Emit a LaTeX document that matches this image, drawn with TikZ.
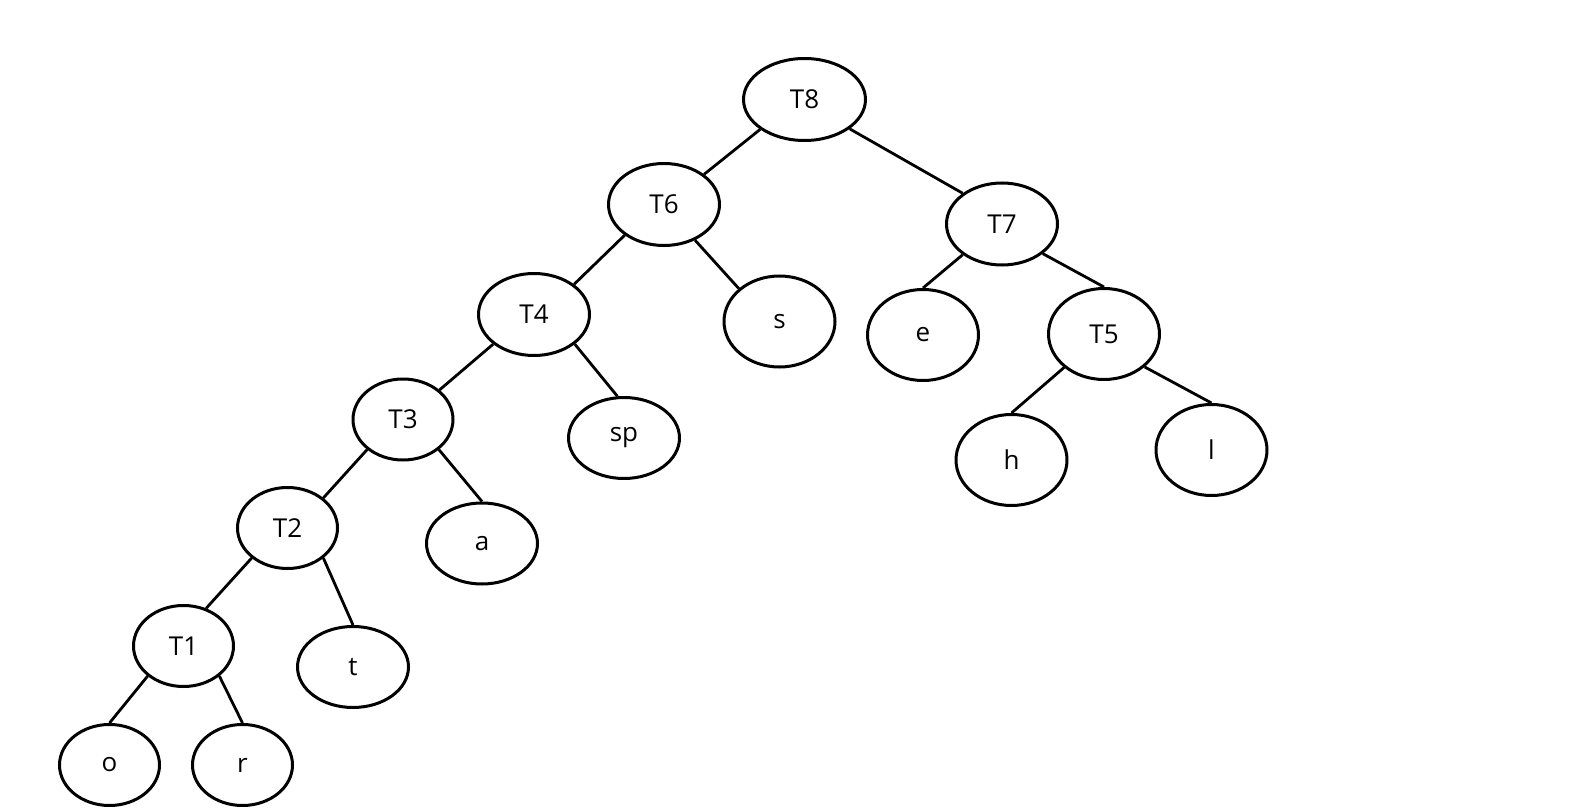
\documentclass[tikz,border=0pt]{standalone}
\usepackage{fontspec}
\setmainfont{Open Sans}
\usetikzlibrary{shapes.geometric}
\tikzset{
  nd/.style={ellipse, draw=black, line width=1.5pt, inner sep=0pt,
    font=\fontsize{13}{15}\selectfont, text=black},
  wA/.style={nd, minimum width=61pt, minimum height=41pt},
  wB/.style={nd, minimum width=55.5pt, minimum height=41pt},
  wC/.style={nd, minimum width=50pt, minimum height=40.5pt},
  wD/.style={nd, minimum width=55.5pt, minimum height=40.5pt},
  wE/.style={nd, minimum width=55.5pt, minimum height=45.5pt},
  edge/.style={line width=1.4pt, draw=black}
}
\begin{document}
\begin{tikzpicture}[x=0.5pt, y=-0.5pt]
\useasboundingbox (0,0) rectangle (1581,808);
\fill[white] (0,0) rectangle (1581,808);
% internal nodes
\node[wA] (T8) at (804.5,99.5) {T8};
\node[wB] (T6) at (664,204.5) {T6};
\node[wB] (T7) at (1002,224) {T7};
\node[wB] (T4) at (534,314.5) {T4};
\node[wE] (T5) at (1104,334) {T5};
\node[wC] (T3) at (403,419.5) {T3};
\node[wC] (T2) at (287.5,528) {T2};
\node[wC] (T1) at (183.5,646) {T1};
% leaves
\node[wE] (s) at (779.5,321.5) {s};
\node[wE] (e) at (923,335) {e};
\node[wD] (sp) at (624,438) {sp};
\node[wE] (h) at (1011.5,460) {h};
\node[wE] (l) at (1211.5,450) {l};
\node[wD] (a) at (482,543.5) {a};
\node[wD] (t) at (353,667) {t};
\node[wC] (o) at (109.5,765) {o};
\node[wC] (r) at (242.5,765) {r};
% edges
\draw[edge] (T8.214) -- (T6.37.5);
\draw[edge] (T8.-33) -- (T7.142);
\draw[edge] (T6.218) -- (T4.37.5);
\draw[edge] (T6.-49) -- (s.141);
\draw[edge] (T7.218) -- (e.north);
\draw[edge] (T7.-36) -- (T5.north);
\draw[edge] (T4.216.6) -- (T3.39.5);
\draw[edge] (T4.-36.6) -- (sp.99);
\draw[edge] (T5.220) -- (h.north);
\draw[edge] (T5.-39.7) -- (l.north);
\draw[edge] (T3.220.5) -- (T2.40.3);
\draw[edge] (T3.-40.4) -- (a.north);
\draw[edge] (T2.220) -- (T1.59);
\draw[edge] (T2.-40) -- (t.north);
\draw[edge] (T1.220) -- (o.north);
\draw[edge] (T1.-40) -- (r.north);
\end{tikzpicture}
\end{document}
